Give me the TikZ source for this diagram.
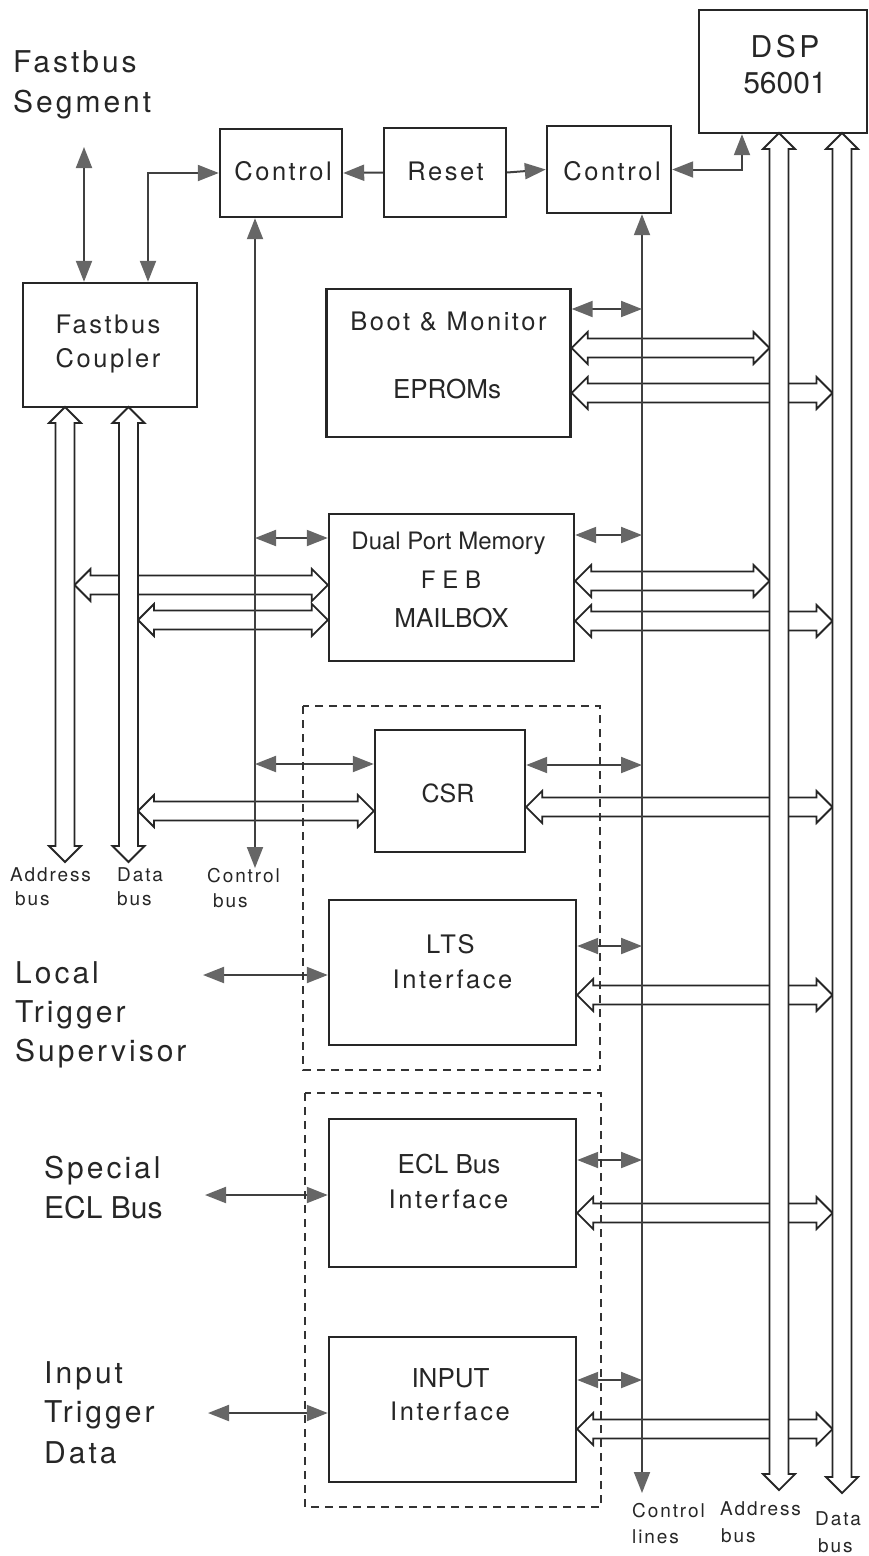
\documentclass[tikz,border=0pt]{standalone}
\usepackage{fontspec}
\setmainfont{TeX Gyre Heros}
\newfontfamily\trackfont{TeX Gyre Heros}[LetterSpace=10]
\usetikzlibrary{arrows.meta, calc}
\tikzset{
  unit/.style={
    rectangle,
    draw=black!85,
    line width=2.4pt,
    inner sep=0pt
  },
  group box/.style={
    draw=black!80,
    line width=1.8pt,
    dash pattern=on 8pt off 6pt
  },
  link/.style={
    draw=black!75,
    line width=2pt,
    {Triangle[length=21pt, width=16pt, color=black!60]}-{Triangle[length=21pt, width=16pt, color=black!60]}
  },
  feed/.style={
    draw=black!75,
    line width=2pt,
    -{Triangle[length=21pt, width=16pt, color=black!60]}
  },
  bus/.style={
    draw=black!85,
    line width=1.8pt,
    fill=white,
    line join=miter
  },
  side text/.style={
    anchor=base west,
    inner sep=0pt,
    text=black!85,
    font=\trackfont\fontsize{30}{36}\selectfont
  },
  unit text/.style={
    anchor=base,
    inner sep=0pt,
    text=black!85,
    font=\trackfont\fontsize{25.5}{30}\selectfont
  },
  plain text/.style={
    anchor=base,
    inner sep=0pt,
    text=black!85,
    font=\fontsize{26}{30}\selectfont
  },
  bus text/.style={
    anchor=base west,
    inner sep=0pt,
    text=black!85,
    font=\trackfont\fontsize{19}{24}\selectfont
  }
}

% hollow double-headed bus arrow between two points
\newcommand{\busarrow}[2]{%
  \coordinate (bus a) at (#1);
  \coordinate (bus b) at (#2);
  \coordinate (bus ha) at ($(bus a)!16pt!(bus b)$);
  \coordinate (bus hb) at ($(bus b)!16pt!(bus a)$);
  \draw[bus] (bus a)
    -- ($(bus ha)!16pt!90:(bus b)$) -- ($(bus ha)!9.5pt!90:(bus b)$)
    -- ($(bus hb)!9.5pt!-90:(bus a)$) -- ($(bus hb)!16pt!-90:(bus a)$)
    -- (bus b)
    -- ($(bus hb)!16pt!90:(bus a)$) -- ($(bus hb)!9.5pt!90:(bus a)$)
    -- ($(bus ha)!9.5pt!-90:(bus b)$) -- ($(bus ha)!16pt!-90:(bus b)$)
    -- cycle;
}

\begin{document}
\begin{tikzpicture}[x=1pt, y=-1pt]
    \useasboundingbox (0,0) rectangle (868,1556);

    % 1. Bausteine
    \node[unit, minimum width=168pt, minimum height=123pt] (dsp) at (783,71.5) {};
    \node[unit, minimum width=122pt, minimum height=88pt] (ctrlL) at (281,173) {};
    \node[unit, minimum width=122pt, minimum height=89pt] (reset) at (445,172.5) {};
    \node[unit, minimum width=124pt, minimum height=87pt] (ctrlR) at (609,169.5) {};
    \node[unit, minimum width=174pt, minimum height=124pt] (coupler) at (110,345) {};
    \node[unit, minimum width=244pt, minimum height=148pt] (boot) at (448.5,363) {};
    \node[unit, minimum width=245pt, minimum height=147pt] (dpm) at (451.5,587.5) {};
    \node[unit, minimum width=150pt, minimum height=122pt] (csr) at (450,791) {};
    \node[unit, minimum width=247pt, minimum height=145pt] (lts) at (452.5,972.5) {};
    \node[unit, minimum width=247pt, minimum height=148pt] (ecl) at (452.5,1193) {};
    \node[unit, minimum width=247pt, minimum height=145pt] (inp) at (452.5,1409.5) {};

    % 2. Bus-Enden
    \coordinate (laddr top) at (65,407);
    \coordinate (laddr end) at (65,862);
    \coordinate (ldata top) at (128.5,407);
    \coordinate (ldata end) at (128.5,862);
    \coordinate (raddr top) at (779,133);
    \coordinate (raddr end) at (779,1490);
    \coordinate (rdata top) at (842,133);
    \coordinate (rdata end) at (842,1493);
    \coordinate (laddr edge) at (74.5,0);
    \coordinate (ldata edge) at (138,0);
    \coordinate (raddr edge) at (769.5,0);
    \coordinate (rdata edge) at (832.5,0);

    % 3. Querverbindungen zu den Bussen
    \busarrow{boot.east |- 0,348}{raddr edge |- 0,348}
    \busarrow{dpm.east |- 0,581}{raddr edge |- 0,581}
    \foreach \b/\y in {boot/393, dpm/621, csr/807, lts/995, ecl/1213, inp/1429}{
      \busarrow{\b.east |- 0,\y}{rdata edge |- 0,\y}
    }
    \busarrow{laddr edge |- 0,585}{dpm.west |- 0,585}
    \busarrow{ldata edge |- 0,620}{dpm.west |- 0,620}
    \busarrow{ldata edge |- 0,811}{csr.west |- 0,811}

    % 4. Adress- und Datenbusse
    \busarrow{laddr top}{laddr end}
    \busarrow{ldata top}{ldata end}
    \busarrow{raddr top}{raddr end}
    \busarrow{rdata top}{rdata end}

    % 5. Steuerleitungen
    \coordinate (cbus end) at (255,868);
    \coordinate (cline end) at (642,1493);
    \draw[link] (ctrlL.south -| cbus end) -- (cbus end);
    \draw[link] (ctrlR.south -| cline end) -- (cline end);
    \foreach \b/\y in {dpm/538, csr/764}
      \draw[link] (cbus end |- 0,\y) -- (\b.west |- 0,\y);
    \foreach \b/\y in {boot/309, dpm/535, csr/765, lts/946, ecl/1160, inp/1380}
      \draw[link] (\b.east |- 0,\y) -- (cline end |- 0,\y);

    % 6. obere Verbindungen
    \coordinate (seg-in) at (84,147);
    \coordinate (cpl-port) at (148,0);
    \coordinate (dsp-port) at (742,0);
    \draw[link] (seg-in) -- (seg-in |- coupler.north);
    \draw[link] (ctrlL.west) -| (coupler.north -| cpl-port);
    \draw[feed] (reset.west) -- (ctrlL.east);
    \draw[feed] (reset.east) -- (ctrlR.west);
    \draw[link] (ctrlR.east) -| (dsp.south -| dsp-port);

    % 7. externe Eingaenge
    \coordinate (lts-in) at (203,975);
    \coordinate (ecl-in) at (205,1195);
    \coordinate (inp-in) at (208,1413);
    \foreach \b in {lts, ecl, inp}
      \draw[link] (\b-in) -- (\b-in -| \b.west);

    % 8. gestrichelte Gruppen
    \draw[group box] (303,706) rectangle (600,1070);
    \draw[group box] (305,1093) rectangle (601,1507);

    % 9. Beschriftung der Bausteine
    \node[plain text, font=\fontsize{30}{34}\selectfont] (dsp-t1) at (785,57) {\spaceskip=0.12em\relax D S P};
    \node[plain text, font=\fontsize{30}{34}\selectfont] (dsp-t2) at (785,93) {56001};
    \node[unit text] (ctrlL-t) at (283,180) {Control};
    \node[unit text] (reset-t) at (445.5,180) {Reset};
    \node[unit text] (ctrlR-t) at (612,180) {Control};
    \node[unit text] (coupler-t1) at (108,333) {Fastbus};
    \node[unit text] (coupler-t2) at (108,367) {Coupler};
    \node[unit text] (boot-t1) at (448.5,330) {Boot \& Monitor};
    \node[plain text] (boot-t2) at (447,398) {EPROMs};
    \node[plain text, font=\fontsize{24}{28}\selectfont] (dpm-t1) at (448.5,549) {Dual Port Memory};
    \node[plain text, font=\fontsize{24}{28}\selectfont] (dpm-t2) at (451,588) {F E B};
    \node[plain text] (dpm-t3) at (451.5,627) {MAILBOX};
    \node[plain text, font=\fontsize{25}{28}\selectfont] (csr-t) at (448,802) {CSR};
    \node[unit text] (lts-t1) at (450.5,953) {LTS};
    \node[unit text] (lts-t2) at (452.5,988) {Interface};
    \node[plain text] (ecl-t1) at (449,1173) {ECL Bus};
    \node[unit text] (ecl-t2) at (448.5,1208) {Interface};
    \node[plain text] (inp-t1) at (450.5,1387) {INPUT};
    \node[unit text] (inp-t2) at (450,1420) {Interface};

    % 10. seitliche Beschriftung
    \node[side text] (seg-t1) at (13,72) {Fastbus};
    \node[side text] (seg-t2) at (13,112) {Segment};
    \foreach \t/\y [count=\i] in {Local/983, Trigger/1022, Supervisor/1061}
      \node[side text] (lts-lbl-\i) at (15,\y) {\t};
    \node[side text] (ecl-lbl-1) at (44,1178) {Special};
    \node[side text, font=\fontsize{30}{36}\selectfont] (ecl-lbl-2) at (44,1218) {ECL Bus};
    \foreach \t/\y [count=\i] in {Input/1383, Trigger/1422, Data/1463}
      \node[side text] (inp-lbl-\i) at (44,\y) {\t};

    % 11. Busnamen
    \node[bus text] (laddr-t1) at (10,881) {Address};
    \node[bus text] (laddr-t2) at (15,905) {bus};
    \node[bus text] (ldata-t1) at (117,881) {Data};
    \node[bus text] (ldata-t2) at (117,905) {bus};
    \node[bus text] (cbus-t1) at (207,882) {Control};
    \node[bus text] (cbus-t2) at (213,907) {bus};
    \node[bus text] (cline-t1) at (632,1517) {Control};
    \node[bus text] (cline-t2) at (632,1543) {lines};
    \node[bus text] (raddr-t1) at (720,1515) {Address};
    \node[bus text] (raddr-t2) at (721,1542) {bus};
    \node[bus text] (rdata-t1) at (815,1525) {Data};
    \node[bus text] (rdata-t2) at (818,1552) {bus};
\end{tikzpicture}
\end{document}
